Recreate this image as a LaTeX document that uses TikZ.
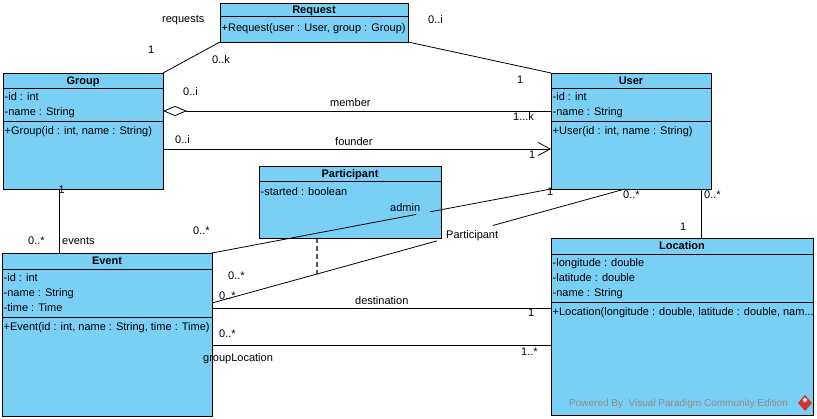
\documentclass[tikz,border=0pt]{standalone}
\usepackage{fontspec}
\setmainfont{Liberation Sans}
\usetikzlibrary{calc,arrows.meta}
\definecolor{clsblue}{RGB}{122,207,245}
\definecolor{wmgrey}{RGB}{140,140,140}
\definecolor{wmred}{RGB}{215,50,50}

\begin{document}
\begin{tikzpicture}[x=1pt,y=-1pt,
  cls/.style={draw, fill=clsblue, line width=0.9pt, anchor=north west, inner sep=0, outer sep=0},
  sep/.style={line width=0.9pt},
  lbl/.style={inner sep=0, anchor=base west, font=\fontsize{11}{13}\selectfont},
  ttl/.style={inner sep=0, anchor=base, font=\fontsize{11}{13}\selectfont\bfseries},
  assoc/.style={line width=0.8pt},
]
\useasboundingbox (0,0) rectangle (817,419);

% ---------- classes ----------
\node[cls, minimum width=188pt, minimum height=39pt] (request) at (220,3) {};
\draw[sep] (220,16) -- (408,16);
\node[ttl] at (314,14) {Request};
\node[lbl] at (221.5,32) {+Request(user : User, group : Group)};

\node[cls, minimum width=160pt, minimum height=116pt] (group) at (3,73) {};
\draw[sep] (3,88) -- (163,88);
\draw[sep] (3,121) -- (163,121);
\node[ttl] at (83,85) {Group};
\node[lbl] at (4.5,101) {-id : int};
\node[lbl] at (4.5,116) {-name : String};
\node[lbl] at (4.5,135) {+Group(id : int, name : String)};

\node[cls, minimum width=160pt, minimum height=116pt] (user) at (551,73) {};
\draw[sep] (551,88) -- (711,88);
\draw[sep] (551,121) -- (711,121);
\node[ttl] at (631,85) {User};
\node[lbl] at (552.5,101) {-id : int};
\node[lbl] at (552.5,116) {-name : String};
\node[lbl] at (552.5,135) {+User(id : int, name : String)};

\node[cls, minimum width=182pt, minimum height=72pt] (participant) at (259,166) {};
\draw[sep] (259,181) -- (441,181);
\node[ttl] at (350,178) {Participant};
\node[lbl] at (260.5,196) {-started : boolean};

\node[cls, minimum width=210pt, minimum height=163pt] (event) at (2,253) {};
\draw[sep] (2,269) -- (212,269);
\draw[sep] (2,317) -- (212,317);
\node[ttl] at (107,265) {Event};
\node[lbl] at (3.5,282) {-id : int};
\node[lbl] at (3.5,297) {-name : String};
\node[lbl] at (3.5,312) {-time : Time};
\node[lbl] at (3.5,331) {+Event(id : int, name : String, time : Time)};

\node[cls, minimum width=262pt, minimum height=177pt] (location) at (551,238) {};
\draw[sep] (551,254) -- (813,254);
\draw[sep] (551,302) -- (813,302);
\node[ttl] at (682,250) {Location};
\node[lbl] at (552.5,267) {-longitude : double};
\node[lbl] at (552.5,282) {-latitude : double};
\node[lbl] at (552.5,297) {-name : String};
\node[lbl] at (552.5,316) {+Location(longitude : double, latitude : double, nam...};

% ---------- connector end points ----------
\coordinate (gm) at ($(group.north east)+(0,38)$);
\coordinate (gf) at ($(group.north east)+(0,76)$);
\coordinate (ge) at ($(group.south west)+(56,0)$);
\coordinate (pa) at ($(event.north east)+(0,50)$);
\coordinate (pb) at ($(user.south west)+(74,0)$);
\coordinate (pc) at ($(pa)!0.2542!(pb)$);
\coordinate (ul) at ($(user.south west)+(150,0)$);
\coordinate (ed) at ($(event.north east)+(0,55)$);
\coordinate (eg) at ($(event.north east)+(0,92)$);

% ---------- connectors ----------
\draw[assoc] (request.south west) -- (group.north east);
\draw[assoc] (request.south east) -- (user.north west);
\draw[assoc, {Diamond[open,length=24pt,width=10pt]}-] (gm) -- (user.west |- gm);
\draw[assoc, -{Straight Barb[length=12pt,width=13pt]}] (gf) -- (user.west |- gf);
\draw[assoc] (ge) -- (ge |- event.north);
\draw[assoc] (event.north east) -- ($(event.north east)!0.602!(user.south west)$)
             ($(event.north east)!0.644!(user.south west)$) -- (user.south west);
\draw[assoc] (pa) -- ($(pa)!0.545!(pb)$) ($(pa)!0.680!(pb)$) -- (pb);
\draw[line width=1.1pt, dash pattern=on 5pt off 3pt] ($(participant.south west)+(58,0)$) -- (pc);
\draw[assoc] (ul) -- (ul |- location.north);
\draw[assoc] (ed) -- (location.west |- ed);
\draw[assoc] (eg) -- (location.west |- eg);

% ---------- association labels ----------
\node[lbl] at (162,23) {requests};
\node[lbl] at (148,54) {1};
\node[lbl] at (212,64) {0..k};
\node[lbl] at (428,24) {0..i};
\node[lbl] at (517,84) {1};

\node[lbl] at (183,96) {0..i};
\node[lbl] at (330,107) {member};
\node[lbl] at (513,121) {1...k};

\node[lbl] at (175,144) {0..i};
\node[lbl] at (335,146) {founder};
\node[lbl] at (529,159) {1};

\node[lbl] at (28,245) {0..*};
\node[lbl] at (62,245) {events};
\node[lbl] at (58.5,194) {1};

\node[lbl] at (193,235) {0..*};
\node[lbl] at (390,212) {admin};
\node[lbl] at (547,196) {1};

\node[lbl] at (228,280) {0..*};
\node[lbl] at (219,300) {0..*};
\node[lbl] at (446,239) {Participant};
\node[lbl] at (623,199) {0..*};

\node[lbl] at (704,199) {0..*};
\node[lbl] at (680,231) {1};

\node[lbl] at (355,305) {destination};
\node[lbl] at (528,317) {1};

\node[lbl] at (219,338) {0..*};
\node[lbl] at (203,362) {groupLocation};
\node[lbl] at (521,356) {1..*};

% ---------- footer ----------
\node[inner sep=0, anchor=base west, text=wmgrey, font=\fontsize{10}{12}\selectfont]
  (wm) at (569,407) {Powered By\ \ Visual Paradigm Community Edition};
\fill[wmred] (805,395) -- (812,403) -- (805,411) -- (798,403) -- cycle;
\fill[white] (805,400) circle (2pt);
\end{tikzpicture}
\end{document}
